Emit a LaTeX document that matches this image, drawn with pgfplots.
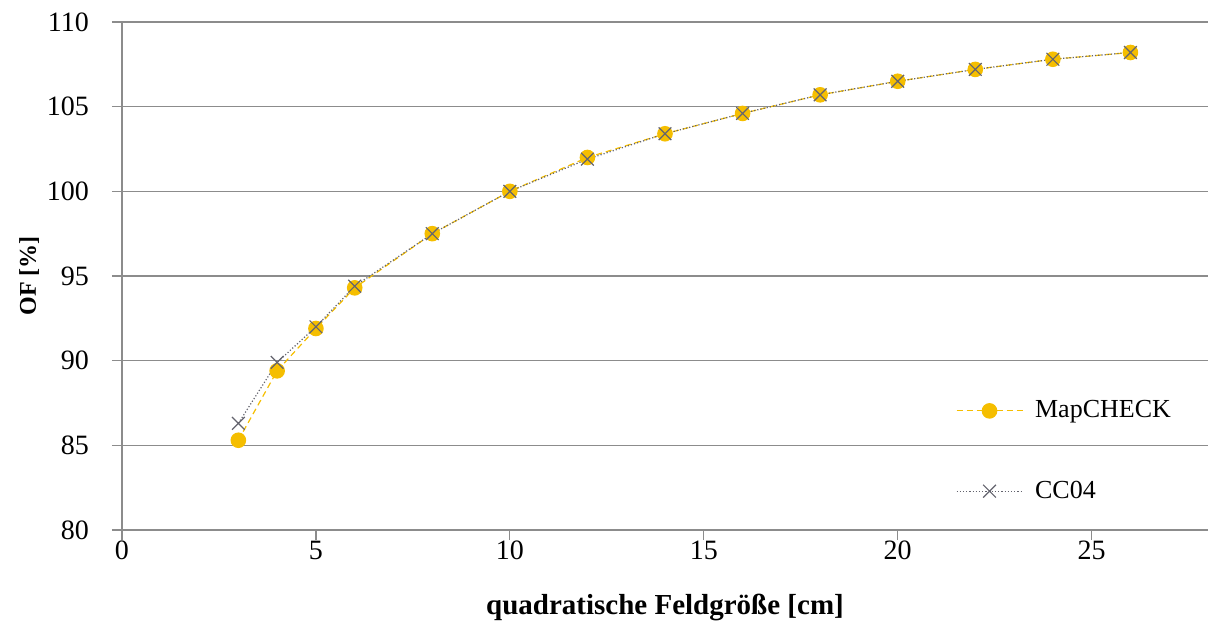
\documentclass[border=0pt]{standalone}
\usepackage{pgfplots}
\pgfplotsset{compat=1.18}
\usepackage{fontspec}
\setmainfont{Liberation Serif}
\usetikzlibrary{calc}
\definecolor{gold}{RGB}{245,190,0}
\definecolor{gridgray}{RGB}{140,140,140}
\definecolor{ccgray}{RGB}{100,100,110}
\begin{document}
\begin{tikzpicture}
\begin{axis}[
  scale only axis,
  width=543pt, height=254pt,
  xmin=0, xmax=28, ymin=80, ymax=110,
  xtick={0,5,10,15,20,25},
  ytick={80,85,90,95,100,105,110},
  ymajorgrids, grid style={gridgray, line width=0.7pt},
  axis line style={gridgray, line width=0.7pt},
  axis x line*=bottom, axis y line*=left,
  tick style={gridgray, line width=0.6pt},
  major tick length=5pt,
  tick align=outside,
  xtick pos=bottom, ytick pos=left,
  tick label style={font=\fontsize{14}{16}\selectfont},
  yticklabel style={xshift=-8pt},
  xticklabel style={yshift=3pt},
  /pgf/number format/assume math mode=true,
  xlabel={\textbf{quadratische Feldgröße [cm]}},
  ylabel={\textbf{OF [\%]}},
  xlabel style={font=\fontsize{14.5}{16}\selectfont, yshift=-10pt},
  ylabel style={font=\fontsize{12}{14}\selectfont, yshift=-3pt},
  legend style={at={(0.762,0.04)}, anchor=south west, draw=none, fill=none,
    font=\fontsize{13}{15}\selectfont, row sep=26pt, legend cell align=left},
  legend image code/.code={\draw[mark repeat=2,mark phase=2] plot coordinates {(0pt,0pt) (16.5pt,0pt) (33pt,0pt)};},
]
\addplot[gold, densely dashed, line width=0.6pt, mark=*, mark size=3.6pt, mark options={solid, fill=gold, draw=gold}]
coordinates {
(3,85.3) (4,89.4) (5,91.9) (6,94.3) (8,97.5) (10,100.0) (12,102.0) (14,103.4) (16,104.6) (18,105.7) (20,106.5) (22,107.2) (24,107.8) (26,108.2)
};
\addlegendentry{\hspace{4pt}MapCHECK}
\addplot[ccgray, densely dotted, line width=0.6pt, mark=x, mark size=4.5pt, mark options={solid, ccgray, line width=0.6pt}]
coordinates {
(3,86.3) (4,89.9) (5,92.0) (6,94.4) (8,97.5) (10,100.0) (12,101.9) (14,103.4) (16,104.6) (18,105.7) (20,106.5) (22,107.2) (24,107.8) (26,108.2)
};
\addlegendentry{\hspace{4pt}CC04}
\end{axis}
\pgfresetboundingbox
\path[use as bounding box] ($(current axis.south west)+(-61pt,-51.5pt)$) rectangle ($(current axis.north east)+(2pt,11pt)$);
\end{tikzpicture}
\end{document}
